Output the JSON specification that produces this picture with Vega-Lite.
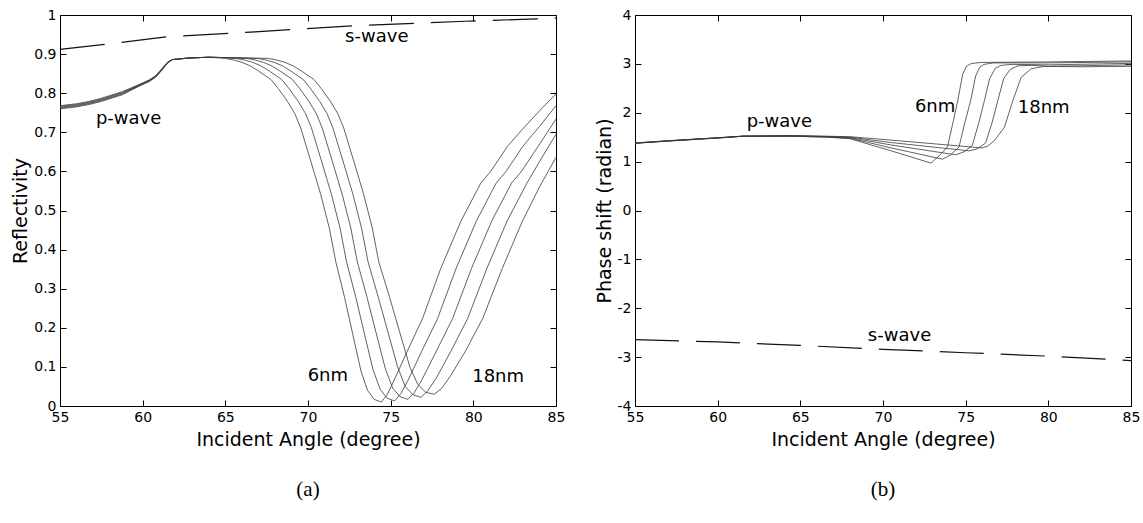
{
  "$schema": "https://vega.github.io/schema/vega-lite/v6.json",
  "background": "white",
  "padding": {"left": 11, "top": 7, "right": 3, "bottom": 3},
  "bounds": "flush",
  "spacing": 79,
  "config": {
    "view": {"stroke": "black", "strokeWidth": 1},
    "font": "DejaVu Sans",
    "axis": {
      "labelFont": "DejaVu Sans", "labelFontSize": 14, "labelColor": "black",
      "titleFont": "DejaVu Sans", "titleFontSize": 19, "titleFontWeight": "normal", "titleColor": "black",
      "grid": false, "domain": false, "tickColor": "black", "tickSize": -6, "tickWidth": 1,
      "labelPadding": 10, "labelFlush": false
    }
  },
  "datasets": {
    "refl_p": [
      {"d": "6nm", "angle": 55, "R": 0.768}, {"d": "6nm", "angle": 56, "R": 0.773}, {"d": "6nm", "angle": 56.75, "R": 0.779}, {"d": "6nm", "angle": 57.5, "R": 0.787}, {"d": "6nm", "angle": 58.77, "R": 0.804}, {"d": "6nm", "angle": 59.78, "R": 0.822}, {"d": "6nm", "angle": 60.4, "R": 0.834}, {"d": "6nm", "angle": 60.79, "R": 0.845}, {"d": "6nm", "angle": 61.19, "R": 0.864}, {"d": "6nm", "angle": 61.5, "R": 0.879}, {"d": "6nm", "angle": 61.8, "R": 0.886}, {"d": "6nm", "angle": 62.8, "R": 0.89}, {"d": "6nm", "angle": 64, "R": 0.892},
      {"d": "6nm", "angle": 65, "R": 0.889}, {"d": "6nm", "angle": 65.5, "R": 0.885}, {"d": "6nm", "angle": 66, "R": 0.879}, {"d": "6nm", "angle": 66.5, "R": 0.87}, {"d": "6nm", "angle": 67, "R": 0.857}, {"d": "6nm", "angle": 67.76, "R": 0.835}, {"d": "6nm", "angle": 68.2, "R": 0.812}, {"d": "6nm", "angle": 68.76, "R": 0.779}, {"d": "6nm", "angle": 69.2, "R": 0.748}, {"d": "6nm", "angle": 69.56, "R": 0.711}, {"d": "6nm", "angle": 70.17, "R": 0.626}, {"d": "6nm", "angle": 70.77, "R": 0.541}, {"d": "6nm", "angle": 71.29, "R": 0.455}, {"d": "6nm", "angle": 71.68, "R": 0.369}, {"d": "6nm", "angle": 72.2, "R": 0.28}, {"d": "6nm", "angle": 72.7, "R": 0.185}, {"d": "6nm", "angle": 73.2, "R": 0.09}, {"d": "6nm", "angle": 73.6, "R": 0.04}, {"d": "6nm", "angle": 74.0, "R": 0.017}, {"d": "6nm", "angle": 74.44, "R": 0.01},
      {"d": "6nm", "angle": 74.8, "R": 0.03}, {"d": "6nm", "angle": 75.19, "R": 0.064}, {"d": "6nm", "angle": 76.0, "R": 0.14}, {"d": "6nm", "angle": 76.93, "R": 0.224}, {"d": "6nm", "angle": 78.03, "R": 0.352}, {"d": "6nm", "angle": 79.24, "R": 0.472}, {"d": "6nm", "angle": 80.45, "R": 0.57}, {"d": "6nm", "angle": 81.05, "R": 0.6}, {"d": "6nm", "angle": 82.06, "R": 0.664}, {"d": "6nm", "angle": 82.87, "R": 0.703}, {"d": "6nm", "angle": 84, "R": 0.755}, {"d": "6nm", "angle": 85, "R": 0.798},

      {"d": "9nm", "angle": 55, "R": 0.766}, {"d": "9nm", "angle": 56, "R": 0.771}, {"d": "9nm", "angle": 56.75, "R": 0.777}, {"d": "9nm", "angle": 57.5, "R": 0.785}, {"d": "9nm", "angle": 58.77, "R": 0.802}, {"d": "9nm", "angle": 59.78, "R": 0.821}, {"d": "9nm", "angle": 60.4, "R": 0.833}, {"d": "9nm", "angle": 60.79, "R": 0.844}, {"d": "9nm", "angle": 61.19, "R": 0.863}, {"d": "9nm", "angle": 61.5, "R": 0.879}, {"d": "9nm", "angle": 61.8, "R": 0.886}, {"d": "9nm", "angle": 62.8, "R": 0.89}, {"d": "9nm", "angle": 64, "R": 0.892}, {"d": "9nm", "angle": 65, "R": 0.891},
      {"d": "9nm", "angle": 65.65, "R": 0.889}, {"d": "9nm", "angle": 66.15, "R": 0.885}, {"d": "9nm", "angle": 66.65, "R": 0.879}, {"d": "9nm", "angle": 67.15, "R": 0.87}, {"d": "9nm", "angle": 67.65, "R": 0.857}, {"d": "9nm", "angle": 68.41, "R": 0.835}, {"d": "9nm", "angle": 68.85, "R": 0.812}, {"d": "9nm", "angle": 69.41, "R": 0.779}, {"d": "9nm", "angle": 69.85, "R": 0.748}, {"d": "9nm", "angle": 70.21, "R": 0.711}, {"d": "9nm", "angle": 70.82, "R": 0.626}, {"d": "9nm", "angle": 71.42, "R": 0.541}, {"d": "9nm", "angle": 71.94, "R": 0.455}, {"d": "9nm", "angle": 72.33, "R": 0.369}, {"d": "9nm", "angle": 72.88, "R": 0.28}, {"d": "9nm", "angle": 73.41, "R": 0.185}, {"d": "9nm", "angle": 73.94, "R": 0.092}, {"d": "9nm", "angle": 74.36, "R": 0.043}, {"d": "9nm", "angle": 74.78, "R": 0.02}, {"d": "9nm", "angle": 75.24, "R": 0.013},
      {"d": "9nm", "angle": 75.62, "R": 0.032}, {"d": "9nm", "angle": 76.04, "R": 0.065}, {"d": "9nm", "angle": 76.88, "R": 0.14}, {"d": "9nm", "angle": 77.84, "R": 0.224}, {"d": "9nm", "angle": 78.96, "R": 0.352}, {"d": "9nm", "angle": 80.17, "R": 0.472}, {"d": "9nm", "angle": 81.38, "R": 0.57}, {"d": "9nm", "angle": 81.98, "R": 0.6}, {"d": "9nm", "angle": 82.99, "R": 0.664}, {"d": "9nm", "angle": 84, "R": 0.715}, {"d": "9nm", "angle": 85, "R": 0.768},

      {"d": "12nm", "angle": 55, "R": 0.764}, {"d": "12nm", "angle": 56, "R": 0.769}, {"d": "12nm", "angle": 56.75, "R": 0.775}, {"d": "12nm", "angle": 57.5, "R": 0.783}, {"d": "12nm", "angle": 58.77, "R": 0.8}, {"d": "12nm", "angle": 59.78, "R": 0.82}, {"d": "12nm", "angle": 60.4, "R": 0.832}, {"d": "12nm", "angle": 60.79, "R": 0.843}, {"d": "12nm", "angle": 61.19, "R": 0.862}, {"d": "12nm", "angle": 61.5, "R": 0.878}, {"d": "12nm", "angle": 61.8, "R": 0.886}, {"d": "12nm", "angle": 62.8, "R": 0.89}, {"d": "12nm", "angle": 64, "R": 0.892}, {"d": "12nm", "angle": 65, "R": 0.891},
      {"d": "12nm", "angle": 66.3, "R": 0.889}, {"d": "12nm", "angle": 66.8, "R": 0.885}, {"d": "12nm", "angle": 67.3, "R": 0.879}, {"d": "12nm", "angle": 67.8, "R": 0.87}, {"d": "12nm", "angle": 68.3, "R": 0.857}, {"d": "12nm", "angle": 69.06, "R": 0.835}, {"d": "12nm", "angle": 69.5, "R": 0.812}, {"d": "12nm", "angle": 70.06, "R": 0.779}, {"d": "12nm", "angle": 70.5, "R": 0.748}, {"d": "12nm", "angle": 70.86, "R": 0.711}, {"d": "12nm", "angle": 71.47, "R": 0.626}, {"d": "12nm", "angle": 72.07, "R": 0.541}, {"d": "12nm", "angle": 72.59, "R": 0.455}, {"d": "12nm", "angle": 72.98, "R": 0.369}, {"d": "12nm", "angle": 73.56, "R": 0.28}, {"d": "12nm", "angle": 74.12, "R": 0.187}, {"d": "12nm", "angle": 74.68, "R": 0.095}, {"d": "12nm", "angle": 75.12, "R": 0.046}, {"d": "12nm", "angle": 75.56, "R": 0.024}, {"d": "12nm", "angle": 76.04, "R": 0.017},
      {"d": "12nm", "angle": 76.44, "R": 0.035}, {"d": "12nm", "angle": 76.89, "R": 0.067}, {"d": "12nm", "angle": 77.76, "R": 0.14}, {"d": "12nm", "angle": 78.75, "R": 0.224}, {"d": "12nm", "angle": 79.89, "R": 0.352}, {"d": "12nm", "angle": 81.1, "R": 0.472}, {"d": "12nm", "angle": 82.31, "R": 0.57}, {"d": "12nm", "angle": 82.91, "R": 0.6}, {"d": "12nm", "angle": 83.92, "R": 0.664}, {"d": "12nm", "angle": 85, "R": 0.734},

      {"d": "15nm", "angle": 55, "R": 0.762}, {"d": "15nm", "angle": 56, "R": 0.767}, {"d": "15nm", "angle": 56.75, "R": 0.773}, {"d": "15nm", "angle": 57.5, "R": 0.781}, {"d": "15nm", "angle": 58.77, "R": 0.798}, {"d": "15nm", "angle": 59.78, "R": 0.819}, {"d": "15nm", "angle": 60.4, "R": 0.831}, {"d": "15nm", "angle": 60.79, "R": 0.842}, {"d": "15nm", "angle": 61.19, "R": 0.861}, {"d": "15nm", "angle": 61.5, "R": 0.878}, {"d": "15nm", "angle": 61.8, "R": 0.886}, {"d": "15nm", "angle": 62.8, "R": 0.89}, {"d": "15nm", "angle": 64, "R": 0.892}, {"d": "15nm", "angle": 65, "R": 0.891},
      {"d": "15nm", "angle": 66.95, "R": 0.889}, {"d": "15nm", "angle": 67.45, "R": 0.885}, {"d": "15nm", "angle": 67.95, "R": 0.879}, {"d": "15nm", "angle": 68.45, "R": 0.87}, {"d": "15nm", "angle": 68.95, "R": 0.857}, {"d": "15nm", "angle": 69.71, "R": 0.835}, {"d": "15nm", "angle": 70.15, "R": 0.812}, {"d": "15nm", "angle": 70.71, "R": 0.779}, {"d": "15nm", "angle": 71.15, "R": 0.748}, {"d": "15nm", "angle": 71.51, "R": 0.711}, {"d": "15nm", "angle": 72.12, "R": 0.626}, {"d": "15nm", "angle": 72.72, "R": 0.541}, {"d": "15nm", "angle": 73.24, "R": 0.455}, {"d": "15nm", "angle": 73.63, "R": 0.369}, {"d": "15nm", "angle": 74.24, "R": 0.28}, {"d": "15nm", "angle": 74.83, "R": 0.19}, {"d": "15nm", "angle": 75.42, "R": 0.1}, {"d": "15nm", "angle": 75.88, "R": 0.05}, {"d": "15nm", "angle": 76.34, "R": 0.029}, {"d": "15nm", "angle": 76.84, "R": 0.022},
      {"d": "15nm", "angle": 77.26, "R": 0.04}, {"d": "15nm", "angle": 77.74, "R": 0.07}, {"d": "15nm", "angle": 78.64, "R": 0.14}, {"d": "15nm", "angle": 79.66, "R": 0.224}, {"d": "15nm", "angle": 80.82, "R": 0.352}, {"d": "15nm", "angle": 82.03, "R": 0.472}, {"d": "15nm", "angle": 83.24, "R": 0.57}, {"d": "15nm", "angle": 84, "R": 0.625}, {"d": "15nm", "angle": 85, "R": 0.695},

      {"d": "18nm", "angle": 55, "R": 0.76}, {"d": "18nm", "angle": 56, "R": 0.765}, {"d": "18nm", "angle": 56.75, "R": 0.771}, {"d": "18nm", "angle": 57.5, "R": 0.779}, {"d": "18nm", "angle": 58.77, "R": 0.796}, {"d": "18nm", "angle": 59.78, "R": 0.818}, {"d": "18nm", "angle": 60.4, "R": 0.83}, {"d": "18nm", "angle": 60.79, "R": 0.841}, {"d": "18nm", "angle": 61.19, "R": 0.86}, {"d": "18nm", "angle": 61.5, "R": 0.877}, {"d": "18nm", "angle": 61.8, "R": 0.886}, {"d": "18nm", "angle": 62.8, "R": 0.89}, {"d": "18nm", "angle": 64, "R": 0.892}, {"d": "18nm", "angle": 65, "R": 0.891}, {"d": "18nm", "angle": 66.5, "R": 0.89},
      {"d": "18nm", "angle": 67.6, "R": 0.889}, {"d": "18nm", "angle": 68.1, "R": 0.885}, {"d": "18nm", "angle": 68.6, "R": 0.879}, {"d": "18nm", "angle": 69.1, "R": 0.87}, {"d": "18nm", "angle": 69.6, "R": 0.857}, {"d": "18nm", "angle": 70.36, "R": 0.835}, {"d": "18nm", "angle": 70.8, "R": 0.812}, {"d": "18nm", "angle": 71.36, "R": 0.779}, {"d": "18nm", "angle": 71.8, "R": 0.748}, {"d": "18nm", "angle": 72.16, "R": 0.711}, {"d": "18nm", "angle": 72.77, "R": 0.626}, {"d": "18nm", "angle": 73.37, "R": 0.541}, {"d": "18nm", "angle": 73.89, "R": 0.455}, {"d": "18nm", "angle": 74.28, "R": 0.369}, {"d": "18nm", "angle": 74.92, "R": 0.28}, {"d": "18nm", "angle": 75.54, "R": 0.19}, {"d": "18nm", "angle": 76.16, "R": 0.1}, {"d": "18nm", "angle": 76.64, "R": 0.055}, {"d": "18nm", "angle": 77.12, "R": 0.035}, {"d": "18nm", "angle": 77.64, "R": 0.03},
      {"d": "18nm", "angle": 78.08, "R": 0.045}, {"d": "18nm", "angle": 78.59, "R": 0.075}, {"d": "18nm", "angle": 79.52, "R": 0.14}, {"d": "18nm", "angle": 80.57, "R": 0.224}, {"d": "18nm", "angle": 81.75, "R": 0.352}, {"d": "18nm", "angle": 82.96, "R": 0.472}, {"d": "18nm", "angle": 84, "R": 0.56}, {"d": "18nm", "angle": 85, "R": 0.636}
    ],
    "refl_s": [
      {"angle": 55, "R": 0.912}, {"angle": 57.76, "R": 0.925}, {"angle": 61.4, "R": 0.944}, {"angle": 66.8, "R": 0.957}, {"angle": 73, "R": 0.973}, {"angle": 79.5, "R": 0.984}, {"angle": 83.8, "R": 0.99}, {"angle": 85, "R": 0.992}
    ],
    "labels_a": [
      {"label": "s-wave", "angle": 74.16, "value": 0.943},
      {"label": "p-wave", "angle": 59.15, "value": 0.734},
      {"label": "6nm", "angle": 71.2, "value": 0.077},
      {"label": "18nm", "angle": 81.5, "value": 0.074}
    ],
    "phase_p": [
      {"d": "6nm", "angle": 55, "phi": 1.374}, {"d": "6nm", "angle": 57, "phi": 1.42}, {"d": "6nm", "angle": 60.4, "phi": 1.49}, {"d": "6nm", "angle": 61.5, "phi": 1.52}, {"d": "6nm", "angle": 64.4, "phi": 1.52}, {"d": "6nm", "angle": 66.6, "phi": 1.5}, {"d": "6nm", "angle": 68.0, "phi": 1.47}, {"d": "6nm", "angle": 70.5, "phi": 1.22}, {"d": "6nm", "angle": 72.9, "phi": 0.97}, {"d": "6nm", "angle": 73.4, "phi": 1.12}, {"d": "6nm", "angle": 73.9, "phi": 1.3}, {"d": "6nm", "angle": 74.2, "phi": 1.75}, {"d": "6nm", "angle": 74.52, "phi": 2.245}, {"d": "6nm", "angle": 74.82, "phi": 2.79}, {"d": "6nm", "angle": 75.05, "phi": 2.95}, {"d": "6nm", "angle": 75.33, "phi": 3.006}, {"d": "6nm", "angle": 75.93, "phi": 3.03}, {"d": "6nm", "angle": 80, "phi": 3.04}, {"d": "6nm", "angle": 85, "phi": 3.06},
      {"d": "9nm", "angle": 55, "phi": 1.376}, {"d": "9nm", "angle": 57, "phi": 1.422}, {"d": "9nm", "angle": 60.4, "phi": 1.492}, {"d": "9nm", "angle": 61.5, "phi": 1.52}, {"d": "9nm", "angle": 64.4, "phi": 1.52}, {"d": "9nm", "angle": 66.6, "phi": 1.505}, {"d": "9nm", "angle": 68.0, "phi": 1.48}, {"d": "9nm", "angle": 70.5, "phi": 1.28}, {"d": "9nm", "angle": 73.6, "phi": 1.05}, {"d": "9nm", "angle": 74.1, "phi": 1.14}, {"d": "9nm", "angle": 74.6, "phi": 1.3}, {"d": "9nm", "angle": 74.95, "phi": 1.8}, {"d": "9nm", "angle": 75.3, "phi": 2.245}, {"d": "9nm", "angle": 75.6, "phi": 2.75}, {"d": "9nm", "angle": 75.85, "phi": 2.93}, {"d": "9nm", "angle": 76.1, "phi": 2.99}, {"d": "9nm", "angle": 76.7, "phi": 3.02}, {"d": "9nm", "angle": 80, "phi": 3.02}, {"d": "9nm", "angle": 85, "phi": 3.04},
      {"d": "12nm", "angle": 55, "phi": 1.378}, {"d": "12nm", "angle": 57, "phi": 1.424}, {"d": "12nm", "angle": 60.4, "phi": 1.494}, {"d": "12nm", "angle": 61.5, "phi": 1.52}, {"d": "12nm", "angle": 64.4, "phi": 1.525}, {"d": "12nm", "angle": 66.6, "phi": 1.51}, {"d": "12nm", "angle": 68.0, "phi": 1.49}, {"d": "12nm", "angle": 70.5, "phi": 1.34}, {"d": "12nm", "angle": 74.4, "phi": 1.14}, {"d": "12nm", "angle": 74.9, "phi": 1.2}, {"d": "12nm", "angle": 75.4, "phi": 1.33}, {"d": "12nm", "angle": 75.8, "phi": 1.8}, {"d": "12nm", "angle": 76.13, "phi": 2.245}, {"d": "12nm", "angle": 76.45, "phi": 2.7}, {"d": "12nm", "angle": 76.8, "phi": 2.91}, {"d": "12nm", "angle": 77.14, "phi": 2.97}, {"d": "12nm", "angle": 77.8, "phi": 2.99}, {"d": "12nm", "angle": 80, "phi": 2.98}, {"d": "12nm", "angle": 85, "phi": 3.01},
      {"d": "15nm", "angle": 55, "phi": 1.38}, {"d": "15nm", "angle": 57, "phi": 1.426}, {"d": "15nm", "angle": 60.4, "phi": 1.496}, {"d": "15nm", "angle": 61.5, "phi": 1.52}, {"d": "15nm", "angle": 64.4, "phi": 1.53}, {"d": "15nm", "angle": 66.6, "phi": 1.515}, {"d": "15nm", "angle": 68.0, "phi": 1.5}, {"d": "15nm", "angle": 70.5, "phi": 1.39}, {"d": "15nm", "angle": 75.2, "phi": 1.22}, {"d": "15nm", "angle": 75.7, "phi": 1.26}, {"d": "15nm", "angle": 76.2, "phi": 1.38}, {"d": "15nm", "angle": 76.6, "phi": 1.8}, {"d": "15nm", "angle": 76.94, "phi": 2.245}, {"d": "15nm", "angle": 77.3, "phi": 2.7}, {"d": "15nm", "angle": 77.7, "phi": 2.89}, {"d": "15nm", "angle": 78.17, "phi": 2.96}, {"d": "15nm", "angle": 79, "phi": 2.97}, {"d": "15nm", "angle": 80, "phi": 2.95}, {"d": "15nm", "angle": 85, "phi": 2.98},
      {"d": "18nm", "angle": 55, "phi": 1.382}, {"d": "18nm", "angle": 57, "phi": 1.428}, {"d": "18nm", "angle": 60.4, "phi": 1.498}, {"d": "18nm", "angle": 61.5, "phi": 1.52}, {"d": "18nm", "angle": 64.4, "phi": 1.535}, {"d": "18nm", "angle": 66.6, "phi": 1.52}, {"d": "18nm", "angle": 68.0, "phi": 1.51}, {"d": "18nm", "angle": 70.5, "phi": 1.44}, {"d": "18nm", "angle": 76.0, "phi": 1.28}, {"d": "18nm", "angle": 76.34, "phi": 1.32}, {"d": "18nm", "angle": 76.74, "phi": 1.43}, {"d": "18nm", "angle": 77.34, "phi": 1.7}, {"d": "18nm", "angle": 77.85, "phi": 2.245}, {"d": "18nm", "angle": 78.35, "phi": 2.72}, {"d": "18nm", "angle": 78.96, "phi": 2.9}, {"d": "18nm", "angle": 79.75, "phi": 2.95}, {"d": "18nm", "angle": 82, "phi": 2.94}, {"d": "18nm", "angle": 85, "phi": 2.95}
    ],
    "phase_s": [
      {"angle": 55, "phi": -2.64}, {"angle": 60, "phi": -2.69}, {"angle": 65, "phi": -2.76}, {"angle": 70, "phi": -2.84}, {"angle": 75, "phi": -2.91}, {"angle": 80, "phi": -2.98}, {"angle": 85, "phi": -3.07}
    ],
    "labels_b": [
      {"label": "p-wave", "angle": 63.73, "value": 1.82},
      {"label": "6nm", "angle": 73.15, "value": 2.12},
      {"label": "18nm", "angle": 79.72, "value": 2.1},
      {"label": "s-wave", "angle": 71.0, "value": -2.56}
    ]
  },
  "hconcat": [
    {
      "width": 496,
      "height": 391,
      "title": {"text": "(a)", "orient": "bottom", "anchor": "middle", "frame": "group", "font": "Liberation Serif", "fontSize": 21, "fontWeight": "normal", "color": "black", "offset": 30},
      "layer": [
        {
          "data": {"name": "refl_p"},
          "mark": {"type": "line", "stroke": "#3a3a3a", "strokeWidth": 0.8},
          "encoding": {
            "x": {"field": "angle", "type": "quantitative", "scale": {"domain": [55, 85], "nice": false, "zero": false},
                  "axis": {"orient": "bottom", "values": [55, 60, 65, 70, 75, 80, 85], "title": "Incident Angle (degree)", "titlePadding": 6}},
            "y": {"field": "R", "type": "quantitative", "scale": {"domain": [0, 1], "nice": false, "zero": false},
                  "axis": {"orient": "left", "values": [0, 0.1, 0.2, 0.3, 0.4, 0.5, 0.6, 0.7, 0.8, 0.9, 1], "format": "~g", "title": "Reflectivity", "titlePadding": 3}},
            "detail": {"field": "d"}
          }
        },
        {
          "data": {"name": "refl_s"},
          "mark": {"type": "line", "stroke": "#111111", "strokeWidth": 1.2, "strokeDash": [45, 17]},
          "encoding": {
            "x": {"field": "angle", "type": "quantitative", "scale": {"domain": [55, 85], "nice": false, "zero": false},
                  "axis": {"orient": "top", "values": [55, 60, 65, 70, 75, 80, 85], "labels": false, "title": null}},
            "y": {"field": "R", "type": "quantitative", "scale": {"domain": [0, 1], "nice": false, "zero": false},
                  "axis": {"orient": "right", "values": [0, 0.1, 0.2, 0.3, 0.4, 0.5, 0.6, 0.7, 0.8, 0.9, 1], "labels": false, "title": null}}
          }
        },
        {
          "data": {"name": "labels_a"},
          "mark": {"type": "text", "font": "DejaVu Sans", "fontSize": 18, "color": "black", "align": "center", "baseline": "middle"},
          "encoding": {
            "x": {"field": "angle", "type": "quantitative", "scale": {"domain": [55, 85], "nice": false, "zero": false}, "axis": null},
            "y": {"field": "value", "type": "quantitative", "scale": {"domain": [0, 1], "nice": false, "zero": false}, "axis": null},
            "text": {"field": "label"}
          }
        }
      ]
    },
    {
      "width": 496,
      "height": 391,
      "title": {"text": "(b)", "orient": "bottom", "anchor": "middle", "frame": "group", "font": "Liberation Serif", "fontSize": 21, "fontWeight": "normal", "color": "black", "offset": 30},
      "layer": [
        {
          "data": {"name": "phase_p"},
          "mark": {"type": "line", "stroke": "#3a3a3a", "strokeWidth": 0.8},
          "encoding": {
            "x": {"field": "angle", "type": "quantitative", "scale": {"domain": [55, 85], "nice": false, "zero": false},
                  "axis": {"orient": "bottom", "values": [55, 60, 65, 70, 75, 80, 85], "title": "Incident Angle (degree)", "titlePadding": 6}},
            "y": {"field": "phi", "type": "quantitative", "scale": {"domain": [-4, 4], "nice": false, "zero": false},
                  "axis": {"orient": "left", "values": [-4, -3, -2, -1, 0, 1, 2, 3, 4], "labelExpr": "'' + datum.value", "title": "Phase shift (radian)", "titlePadding": 3}},
            "detail": {"field": "d"}
          }
        },
        {
          "data": {"name": "phase_s"},
          "mark": {"type": "line", "stroke": "#111111", "strokeWidth": 1.2, "strokeDash": [44, 17]},
          "encoding": {
            "x": {"field": "angle", "type": "quantitative", "scale": {"domain": [55, 85], "nice": false, "zero": false},
                  "axis": {"orient": "top", "values": [55, 60, 65, 70, 75, 80, 85], "labels": false, "title": null}},
            "y": {"field": "phi", "type": "quantitative", "scale": {"domain": [-4, 4], "nice": false, "zero": false},
                  "axis": {"orient": "right", "values": [-4, -3, -2, -1, 0, 1, 2, 3, 4], "labels": false, "title": null}}
          }
        },
        {
          "data": {"name": "labels_b"},
          "mark": {"type": "text", "font": "DejaVu Sans", "fontSize": 18, "color": "black", "align": "center", "baseline": "middle"},
          "encoding": {
            "x": {"field": "angle", "type": "quantitative", "scale": {"domain": [55, 85], "nice": false, "zero": false}, "axis": null},
            "y": {"field": "value", "type": "quantitative", "scale": {"domain": [-4, 4], "nice": false, "zero": false}, "axis": null},
            "text": {"field": "label"}
          }
        }
      ]
    }
  ]
}
